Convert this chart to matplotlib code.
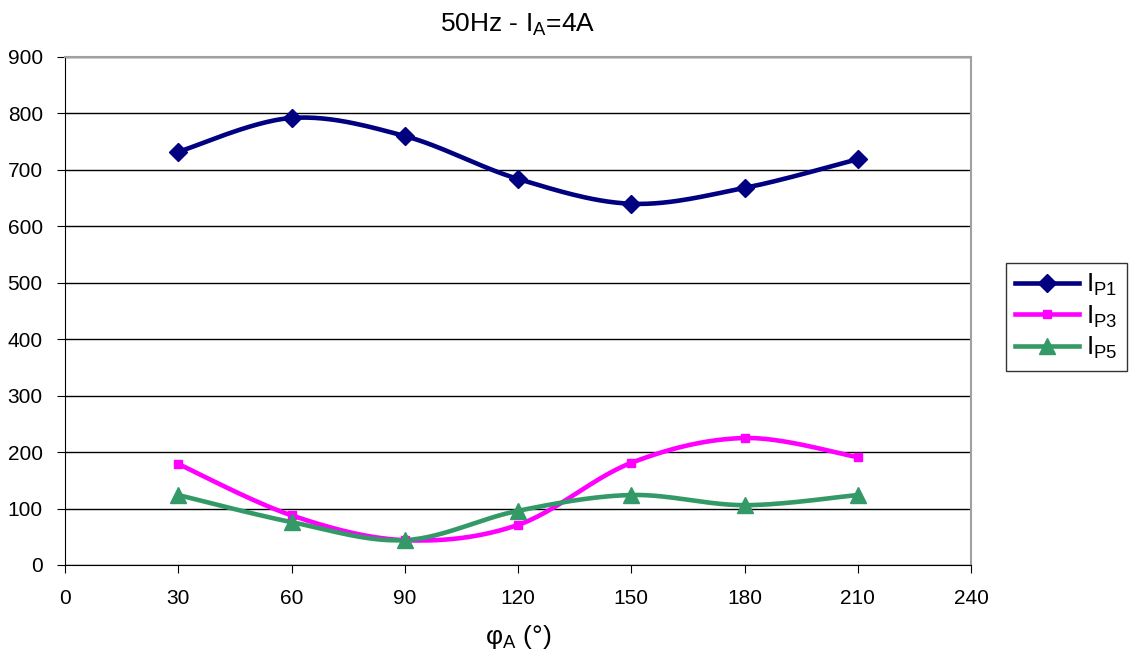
import numpy as np
import matplotlib
matplotlib.use("Agg")
import matplotlib.pyplot as plt

plt.rcParams['font.family'] = ['Liberation Sans', 'DejaVu Sans']
plt.rcParams['mathtext.fontset'] = 'custom'
plt.rcParams['mathtext.rm'] = 'Liberation Sans'
plt.rcParams['mathtext.it'] = 'Liberation Sans'
plt.rcParams['mathtext.default'] = 'regular'

angles = [30, 60, 90, 120, 150, 180, 210]
ip1 = [732, 792, 760, 684, 640, 668, 719]
ip3 = [179, 88, 44, 71, 181, 225, 191]
ip5 = [124, 76, 44, 96, 124, 106, 124]
labels = ['$I_{P1}$', '$I_{P3}$', '$I_{P5}$']
colors = ['#000080', '#FF00FF', '#339966']
markers = ['D', 's', '^']
msizes = [9, 6, 11]


def smooth(x, y, n=30):
    """Excel-style smoothed line through the points (cubic Bezier segments)."""
    x = np.asarray(x, float); y = np.asarray(y, float)
    P = np.column_stack([x, y])
    out = [P[:1]]
    t = np.linspace(0, 1, n)[1:, None]
    for i in range(len(P) - 1):
        p0 = P[i - 1] if i > 0 else P[i]
        p1 = P[i]; p2 = P[i + 1]
        p3 = P[i + 2] if i + 2 < len(P) else P[i + 1]
        c1 = p1 + (p2 - p0) / 6.0
        c2 = p2 - (p3 - p1) / 6.0
        seg = ((1 - t) ** 3) * p1 + 3 * ((1 - t) ** 2) * t * c1 + 3 * (1 - t) * t ** 2 * c2 + t ** 3 * p2
        out.append(seg)
    S = np.vstack(out)
    return S[:, 0], S[:, 1]


fig = plt.figure(figsize=(11.39, 6.59), dpi=100)
ax = fig.add_axes([65 / 1139, 1 - 565 / 659, (971 - 65) / 1139, (565 - 57) / 659])

for y, lab, c, m, ms in zip([ip1, ip3, ip5], labels, colors, markers, msizes):
    sx, sy = smooth(angles, y)
    ax.plot(sx, sy, color=c, lw=3.3, zorder=3)
    ax.plot(angles, y, linestyle='none', marker=m, color=c, markersize=ms, zorder=4)
    ax.plot([], [], color=c, lw=3.3, marker=m, markersize=ms, label=lab)

ax.set_xlim(0, 240)
ax.set_ylim(0, 900)
ax.set_xticks(np.arange(0, 241, 30))
ax.set_yticks(np.arange(0, 901, 100))
ax.grid(axis='y', color='black', lw=1)
ax.set_axisbelow(True)
for s in ['top', 'right']:
    ax.spines[s].set_color('#A0A0A0')
    ax.spines[s].set_linewidth(1.5)
ax.spines['left'].set_color('black')
ax.spines['bottom'].set_color('black')
ax.tick_params(axis='both', direction='out', length=6, labelsize=15, colors='black')
ax.tick_params(axis='x', pad=11)
ax.tick_params(axis='y', pad=10)

ax.set_title('50Hz - $I_A$=4A', fontsize=19, pad=18)
ax.set_xlabel('φ$_A$ (°)', fontsize=19, labelpad=11)

leg = fig.legend(loc='upper left', bbox_to_anchor=(1006 / 1139, 1 - 263 / 659),
                 fontsize=19, frameon=True, fancybox=False, edgecolor='black',
                 handlelength=2.4, borderpad=0.35, labelspacing=0.2, handletextpad=0.3,
                 borderaxespad=0)
leg.get_frame().set_linewidth(1)

fig.savefig('out.png', dpi=100)
